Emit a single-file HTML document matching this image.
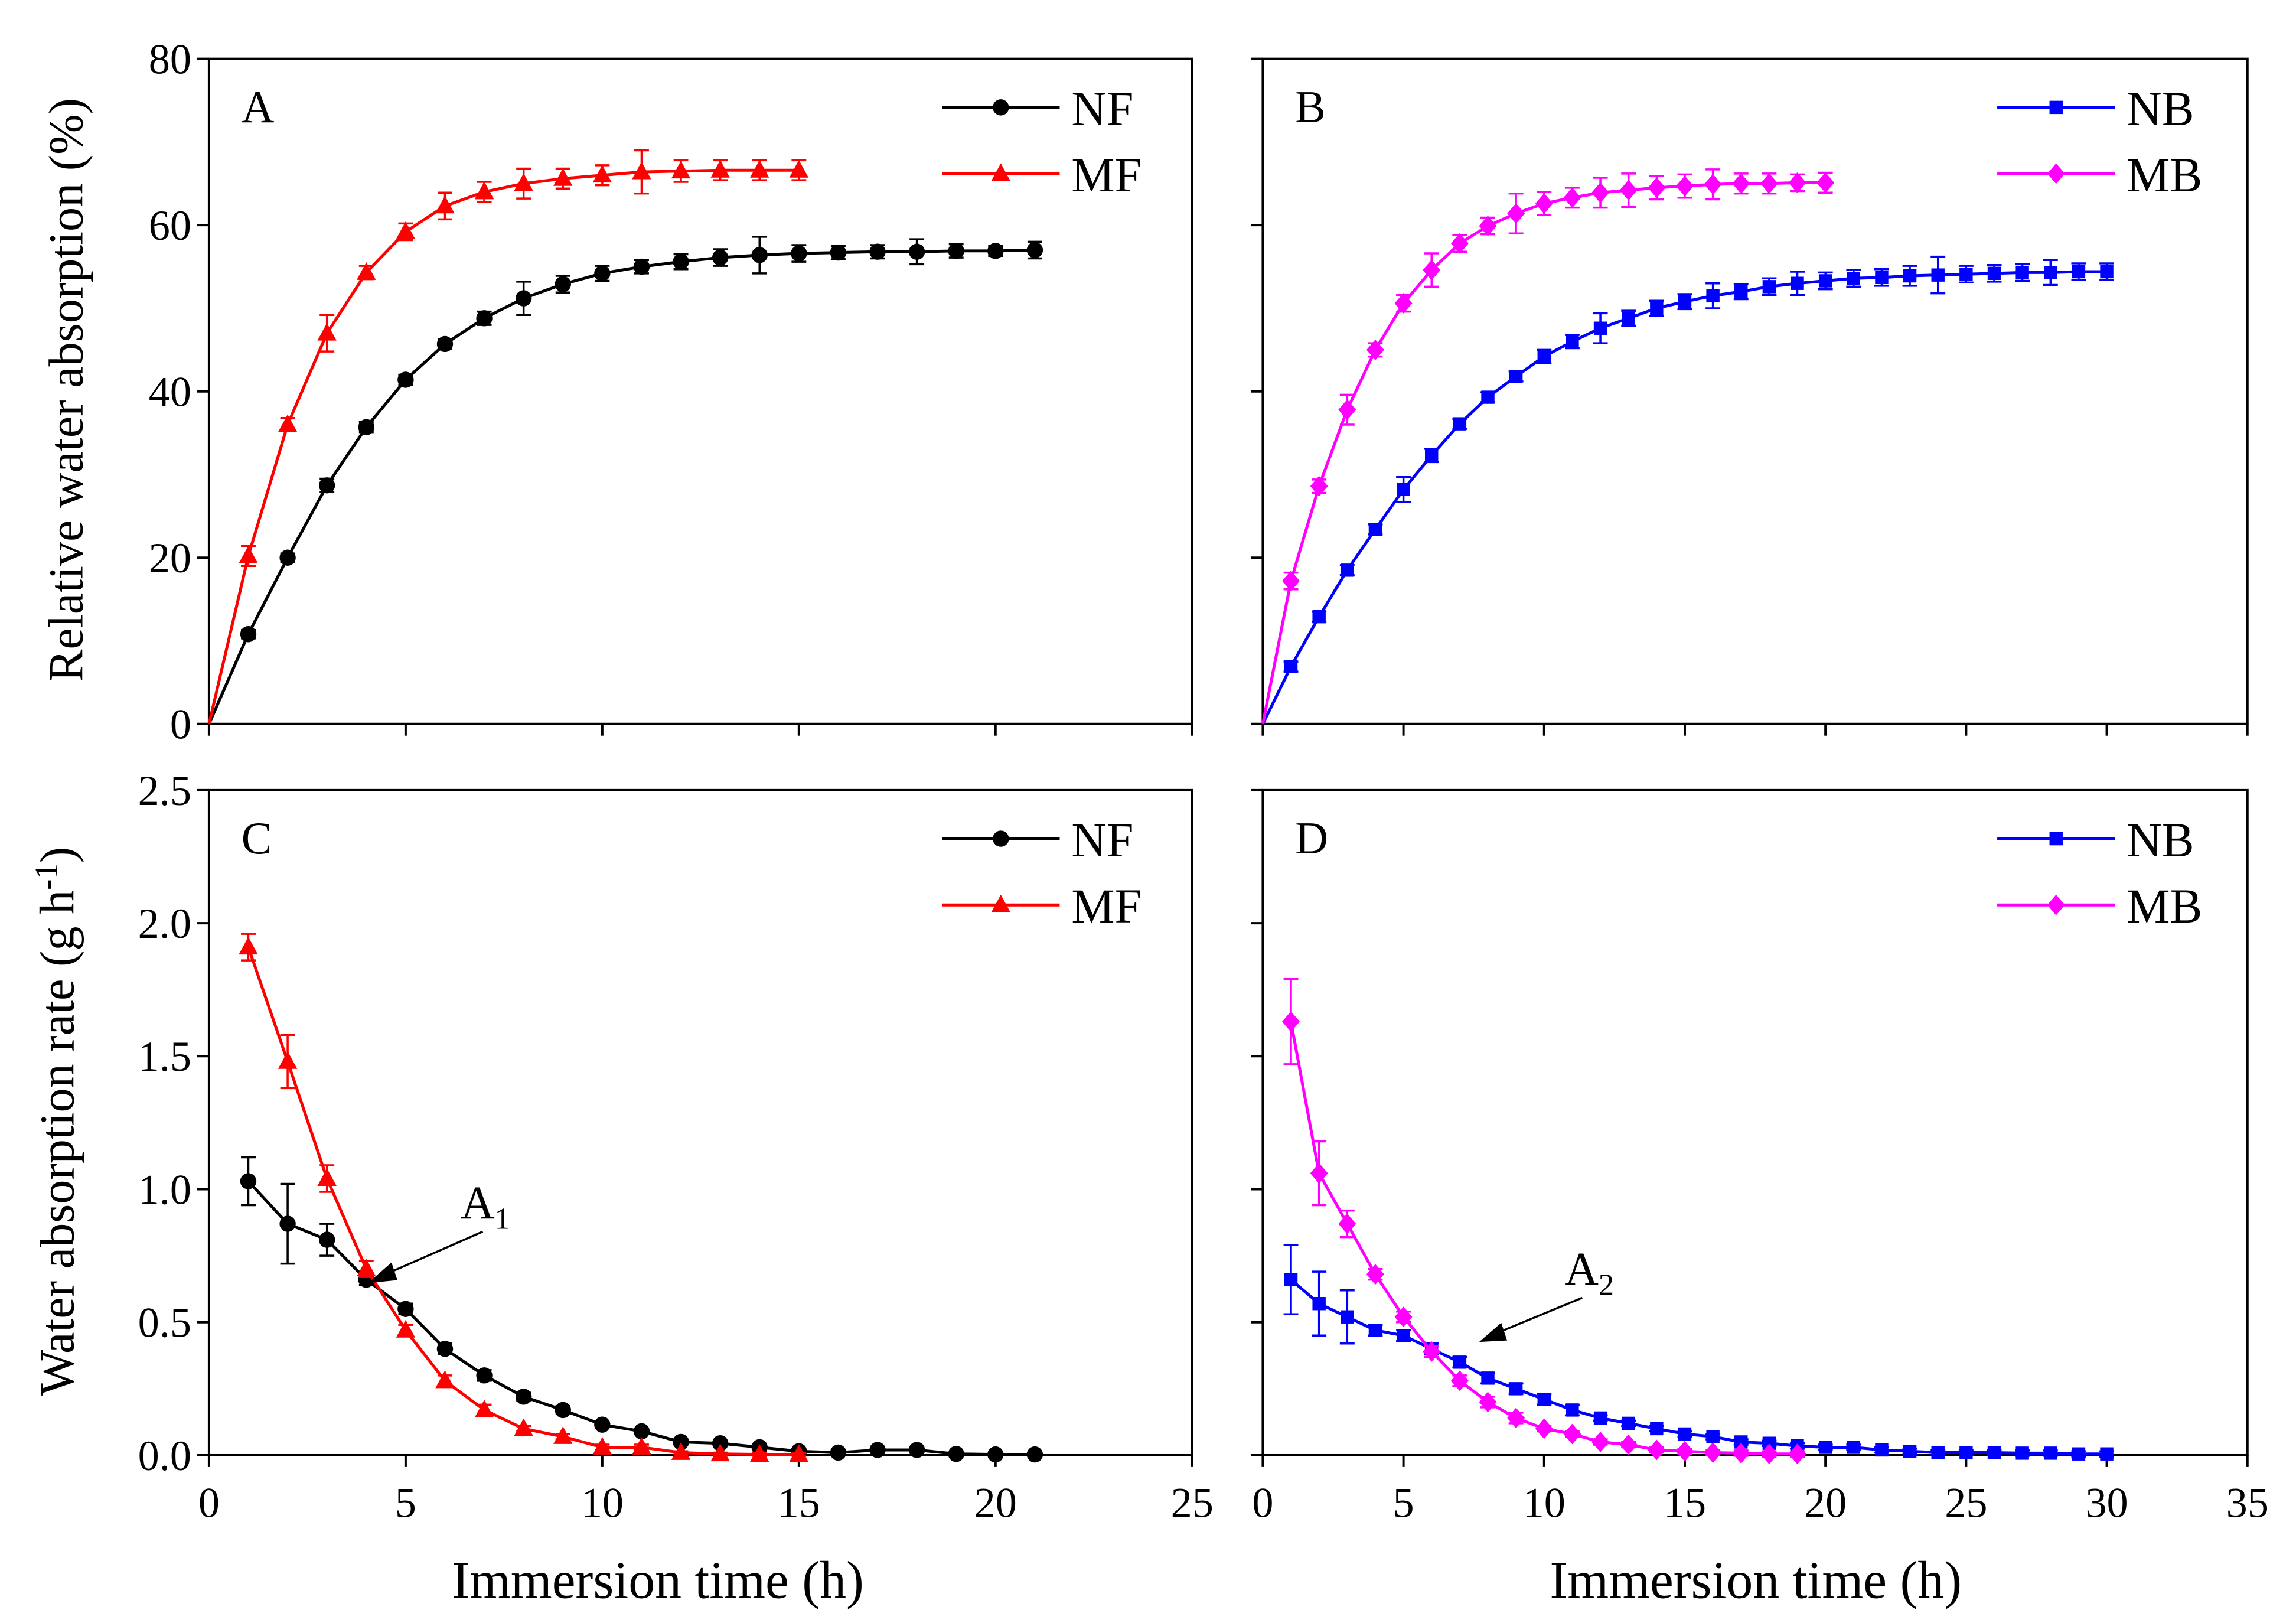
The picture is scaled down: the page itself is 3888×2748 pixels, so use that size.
<!DOCTYPE html>
<html><head><meta charset="utf-8"><style>html,body{margin:0;padding:0;background:#fff}svg{display:block}text{font-family:"Liberation Serif","Times New Roman",serif;fill:#000}</style></head>
<body>
<svg id="c" width="3888" height="2748" viewBox="0 0 1560 1103" preserveAspectRatio="none" xmlns="http://www.w3.org/2000/svg"></svg>
<script>
const nfA=[0,10.8,20,28.7,35.7,41.4,45.7,48.8,51.2,52.9,54.2,55,55.6,56.1,56.4,56.6,56.7,56.8,56.8,56.9,56.9,57];
const nfAErr=[0,0.5,0.5,0.8,0.6,0.6,0.6,0.8,2,1,0.9,0.8,0.9,1,2.2,1,0.8,0.8,1.5,0.8,0.6,1];
const mfA=[0,20.2,36,47,54.3,59.2,62.3,64,65,65.6,66,66.4,66.5,66.6,66.6,66.6];
const mfAErr=[0,1.2,0.8,2.2,0.8,1,1.6,1.2,1.8,1.2,1.2,2.6,1.3,1.2,1.2,1.2];
const nbB=[0,6.9,12.9,18.5,23.4,28.2,32.3,36.1,39.3,41.8,44.2,46,47.6,48.8,50,50.8,51.5,52,52.6,53,53.3,53.6,53.7,53.9,54,54.1,54.2,54.3,54.3,54.4,54.4];
const nbBErr=[0,0.6,0.6,0.6,0.6,1.5,0.8,0.6,0.6,0.6,0.8,0.8,1.8,0.9,0.9,0.9,1.5,0.9,1,1.4,1,1,1,1.2,2.2,1,1,1,1.5,1,1];
const mbB=[0,17.2,28.6,37.8,45,50.6,54.6,57.8,59.9,61.4,62.6,63.3,63.9,64.2,64.5,64.7,64.9,65,65,65.1,65.1];
const mbBErr=[0,1,0.8,1.8,0.8,1,2,1,1,2.4,1.4,1.2,1.8,2,1.4,1.4,1.8,1.2,1.2,1,1.2];
const nfC=[1.03,0.87,0.81,0.66,0.55,0.4,0.3,0.22,0.17,0.115,0.09,0.05,0.045,0.03,0.015,0.01,0.02,0.02,0.005,0.003,0.003];
const nfCErr=[0.09,0.15,0.06,0.02,0.02,0.02,0.02,0.015,0.015,0.01,0.01,0.01,0.01,0.01,0.01,0.005,0.01,0.01,0.005,0.005,0.005];
const mfC=[1.91,1.48,1.04,0.7,0.47,0.28,0.17,0.1,0.07,0.03,0.03,0.01,0.005,0.003,0.003];
const mfCErr=[0.05,0.1,0.05,0.03,0.02,0.02,0.02,0.01,0.01,0.01,0.01,0.005,0.005,0.005,0.005];
const nbD=[0.66,0.57,0.52,0.47,0.45,0.40,0.35,0.29,0.25,0.21,0.17,0.14,0.12,0.10,0.08,0.07,0.05,0.045,0.035,0.03,0.03,0.02,0.015,0.01,0.01,0.01,0.008,0.008,0.005,0.005];
const nbDErr=[0.13,0.12,0.1,0.02,0.02,0.02,0.02,0.02,0.02,0.02,0.02,0.01,0.01,0.01,0.01,0.01,0.01,0.01,0.01,0.01,0.01,0.01,0.01,0.01,0.01,0.01,0.01,0.01,0.01,0.01];
const mbD=[1.63,1.06,0.87,0.68,0.52,0.39,0.28,0.2,0.14,0.1,0.08,0.05,0.04,0.02,0.015,0.01,0.008,0.005,0.005];
const mbDErr=[0.16,0.12,0.05,0.02,0.02,0.02,0.02,0.02,0.02,0.01,0.01,0.01,0.01,0.01,0.01,0.01,0.01,0.01,0.01];
const xTicksAC=[0,5,10,15,20,25], xTicksBD=[0,5,10,15,20,25,30,35];
const yTicksAB=[0,20,40,60,80], yTicksCD=["0.0","0.5","1.0","1.5","2.0","2.5"];

const svg=document.getElementById('c');const NS='http://www.w3.org/2000/svg';
const FF='"Liberation Serif", serif';
function el(t,a,p){const e=document.createElementNS(NS,t);for(const k in a)e.setAttribute(k,a[k]);(p||svg).appendChild(e);return e;}
function txt(s,a,p){a['font-family']=FF;const e=el('text',a,p);e.textContent=s;return e;}
function marker(g,shape,x,y,col){
  let m;
  if(shape==='circle')m=el('circle',{cx:x,cy:y,r:5.5,fill:col},g);
  else if(shape==='tri')m=el('polygon',{points:`${x},${y-7} ${x-6.5},${y+5} ${x+6.5},${y+5}`,fill:col},g);
  else if(shape==='sq')m=el('rect',{x:x-4.5,y:y-4.5,width:9,height:9,fill:col},g);
  else m=el('polygon',{points:`${x},${y-7} ${x+6},${y} ${x},${y+7} ${x-6},${y}`,fill:col},g);
  
  
}
function panel(o){
  const g=el('g',{});
  
  
  const X=v=>o.x0+(v-o.xmin)/(o.xmax-o.xmin)*(o.x1-o.x0);
  const Y=v=>o.y0-(v-o.ymin)/(o.ymax-o.ymin)*(o.y0-o.y1);
  const fr=el('rect',{x:o.x0,y:o.y1,width:o.x1-o.x0,height:o.y0-o.y1,fill:'none',stroke:'#000','stroke-width':1.6},g);
  
  
  o.yt.forEach(t=>{const y=Y(+t);el('line',{x1:o.x0-8,x2:o.x0,y1:y,y2:y,stroke:'#000','stroke-width':1.6},g);
    if(o.ylab){const l=txt(t,{x:o.x0-12,y:y+10,'font-size':29,'text-anchor':'end'},g);
    
    }});
  o.xt.forEach(t=>{const x=X(t);el('line',{x1:x,x2:x,y1:o.y0,y2:o.y0+8,stroke:'#000','stroke-width':1.6},g);
    if(o.xlab){const l=txt(String(t),{x:x,y:o.y0+42,'font-size':29,'text-anchor':'middle'},g);
    
    }});
  const pl=txt(o.letter,{x:o.x0+22,y:o.y1+43,'font-size':31},g);
  
  
  o.series.forEach((s,si)=>{
    const sg=el('g',{},g);
    
    
    const pts=s.data.map((v,i)=>[X(i+s.start),Y(v)]);
    el('polyline',{points:pts.map(p=>p.join(',')).join(' '),fill:'none',stroke:s.col,'stroke-width':2},sg);
    s.data.forEach((v,i)=>{const e=s.err[i];if(e>0){const x=X(i+s.start);
      el('path',{d:`M${x},${Y(v-e)}V${Y(v+e)}M${x-5},${Y(v-e)}H${x+5}M${x-5},${Y(v+e)}H${x+5}`,stroke:s.col,'stroke-width':1.4,fill:'none'},sg);}});
    pts.forEach((p,i)=>{if(s.start+i>0||!s.noZeroMark)marker(sg,s.shape,p[0],p[1],s.col);});
    const ly=o.y1+33+si*45,lx=o.legX;
    const lg=el('g',{},g);
    
    
    el('line',{x1:lx,x2:lx+80,y1:ly,y2:ly,stroke:s.col,'stroke-width':2},lg);
    marker(lg,s.shape,lx+40,ly,s.col);
    txt(s.label,{x:lx+88,y:ly+12,'font-size':33},lg);
  });
}
panel({name:'panel-a',letter:'A',x0:142,x1:810,y0:492,y1:40,xmin:0,xmax:25,ymin:0,ymax:80,xt:xTicksAC,yt:yTicksAB.map(String),ylab:true,xlab:false,legX:640,
 series:[{label:'NF',data:nfA,err:nfAErr,start:0,col:'#000',shape:'circle',noZeroMark:true},{label:'MF',data:mfA,err:mfAErr,start:0,col:'#ff0000',shape:'tri',noZeroMark:true}]});
panel({name:'panel-b',letter:'B',x0:858,x1:1527,y0:492,y1:40,xmin:0,xmax:35,ymin:0,ymax:80,xt:xTicksBD,yt:yTicksAB.map(String),ylab:false,xlab:false,legX:1357,
 series:[{label:'NB',data:nbB,err:nbBErr,start:0,col:'#0000ff',shape:'sq',noZeroMark:true},{label:'MB',data:mbB,err:mbBErr,start:0,col:'#ff00ff',shape:'dia',noZeroMark:true}]});
panel({name:'panel-c',letter:'C',x0:142,x1:810,y0:989,y1:537,xmin:0,xmax:25,ymin:0,ymax:2.5,xt:xTicksAC,yt:yTicksCD,ylab:true,xlab:true,legX:640,
 series:[{label:'NF',data:nfC,err:nfCErr,start:1,col:'#000',shape:'circle'},{label:'MF',data:mfC,err:mfCErr,start:1,col:'#ff0000',shape:'tri'}]});
panel({name:'panel-d',letter:'D',x0:858,x1:1527,y0:989,y1:537,xmin:0,xmax:35,ymin:0,ymax:2.5,xt:xTicksBD,yt:yTicksCD,ylab:false,xlab:true,legX:1357,
 series:[{label:'NB',data:nbD,err:nbDErr,start:1,col:'#0000ff',shape:'sq'},{label:'MB',data:mbD,err:mbDErr,start:1,col:'#ff00ff',shape:'dia'}]});
</script>
<svg style="position:absolute;left:0;top:0" width="3888" height="2748" viewBox="0 0 1560 1103" preserveAspectRatio="none" xmlns="http://www.w3.org/2000/svg" font-family="Liberation Serif, serif">
<text transform="translate(56,265) rotate(-90)" text-anchor="middle" font-size="33">Relative water absorption (%)</text>
<text transform="translate(50,762) rotate(-90)" text-anchor="middle" font-size="33">Water absorption rate (g h<tspan dy="-11" font-size="22">-1</tspan><tspan dy="11">)</tspan></text>
<text x="447" y="1086" text-anchor="middle" font-size="36">Immersion time (h)</text>
<text x="1193" y="1086" text-anchor="middle" font-size="36">Immersion time (h)</text>
<g><text x="313" y="828" font-size="32">A<tspan dy="7" font-size="21">1</tspan></text>
<line x1="328" y1="837" x2="262" y2="866" stroke="#000" stroke-width="1.4"/><polygon points="250,872 266,858 270,870" fill="#000"/></g>
<g><text x="1063" y="873" font-size="32">A<tspan dy="7" font-size="21">2</tspan></text>
<line x1="1075" y1="882" x2="1017" y2="906" stroke="#000" stroke-width="1.4"/><polygon points="1005,912 1020,899 1024,911" fill="#000"/></g>
</svg>
</body></html>
